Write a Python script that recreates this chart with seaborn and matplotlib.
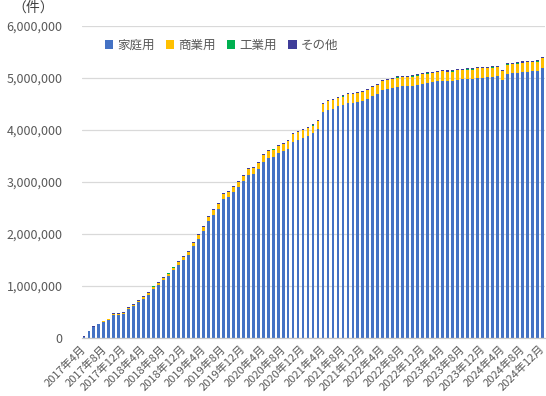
import matplotlib
matplotlib.use("Agg")
import matplotlib.pyplot as plt
from matplotlib.patches import Patch
from matplotlib.transforms import ScaledTranslation
import numpy as np
import pandas as pd
import seaborn as sns

# ---- data (thousands of cases), monthly 2017-04 .. 2024-12 ----
months = [f"{y}年{m}月" for y in range(2017, 2025) for m in range(1, 13)][3:]

home = [20, 135, 214, 263, 311, 346, 450, 450, 468, 553,
        608, 686, 754, 834, 950, 1019, 1107, 1193, 1305, 1405,
        1497, 1597, 1765, 1909, 2062, 2248, 2375, 2486, 2674, 2716,
        2802, 2901, 3011, 3127, 3156, 3242, 3389, 3456, 3486, 3555,
        3592, 3641, 3780, 3812, 3854, 3887, 3935, 4022, 4342, 4386,
        4410, 4454, 4478, 4517, 4527, 4547, 4566, 4605, 4655, 4695,
        4764, 4793, 4813, 4838, 4853, 4852, 4857, 4877, 4896, 4911,
        4926, 4940, 4954, 4947, 4950, 4972, 4974, 4985, 4988, 5008,
        5010, 5017, 5022, 5037, 4957, 5080, 5095, 5099, 5114, 5123,
        5128, 5132, 5200]
commercial = [0, 2, 4, 6, 8, 10, 18, 18, 20, 24,
              26, 30, 32, 36, 40, 42, 44, 46, 50, 52,
              55, 58, 62, 66, 72, 78, 82, 88, 92, 95,
              98, 102, 108, 115, 118, 122, 130, 134, 136, 138,
              140, 142, 145, 146, 148, 150, 152, 155, 162, 164,
              165, 166, 167, 168, 168, 168, 169, 170, 170, 170,
              171, 172, 172, 172, 172, 173, 173, 173, 174, 174,
              174, 175, 175, 175, 175, 176, 176, 176, 177, 177,
              177, 178, 178, 178, 172, 180, 180, 181, 181, 182,
              182, 183, 185]
industrial = [0, 0, 1, 1, 1, 1, 2, 2, 2, 2,
              2, 2, 2, 3, 3, 3, 3, 3, 3, 3,
              3, 3, 4, 4, 4, 4, 4, 4, 4, 4,
              5, 5, 5, 5, 5, 5, 5, 5, 5, 5,
              5, 5, 5, 5, 5, 5, 5, 5, 5, 5,
              5, 5, 5, 5, 5, 5, 5, 5, 5, 5,
              5, 5, 5, 5, 5, 5, 5, 5, 5, 5,
              5, 5, 5, 5, 5, 5, 5, 5, 5, 5,
              5, 5, 5, 5, 5, 5, 5, 5, 5, 5,
              5, 5, 5]
other = [10, 4, 5, 6, 7, 8, 10, 10, 10, 11,
         11, 12, 12, 12, 13, 13, 13, 14, 14, 14,
         15, 15, 15, 15, 16, 16, 16, 16, 17, 17,
         18, 18, 18, 18, 18, 18, 18, 18, 18, 18,
         18, 18, 18, 18, 18, 18, 18, 18, 20, 20,
         20, 20, 20, 20, 20, 20, 20, 20, 20, 20,
         20, 20, 20, 20, 20, 20, 20, 20, 20, 20,
         20, 20, 20, 20, 20, 20, 20, 20, 20, 20,
         20, 20, 20, 20, 20, 20, 20, 20, 20, 20,
         20, 20, 20]

series_names = ["家庭用", "商業用", "工業用", "その他"]
colors = ["#4472C4", "#FFC000", "#00B050", "#3F3D99"]

df = pd.DataFrame({"month": months,
                   "家庭用": np.array(home) * 1000,
                   "商業用": np.array(commercial) * 1000,
                   "工業用": np.array(industrial) * 1000,
                   "その他": np.array(other) * 1000})
cum = df[series_names].cumsum(axis=1)

sns.set_theme(style="white")
plt.rcParams["font.family"] = ["Noto Sans CJK JP", "DejaVu Sans"]

fig = plt.figure(figsize=(5.46, 3.96), dpi=100)
ax = fig.add_axes([0.150, 0.1465, 0.848, 0.7875])

# draw cumulative layers from top to bottom
for name, col in list(zip(series_names, colors))[::-1]:
    sns.barplot(x=df["month"], y=cum[name], color=col, width=0.55,
                saturation=1, ax=ax, linewidth=0, order=months)

ax.set_ylim(0, 6_000_000)
ax.set_xlim(-0.4, len(months) - 1 + 0.55)
ax.set_yticks(np.arange(0, 6_000_001, 1_000_000))
ax.set_yticklabels([f"{v:,}" for v in range(0, 6_000_001, 1_000_000)])
ax.yaxis.grid(True, color="#d9d9d9", linewidth=0.9)
ax.set_axisbelow(True)
for s in ["top", "right", "left"]:
    ax.spines[s].set_visible(False)
ax.spines["bottom"].set_color("#c8c8c8")
ax.spines["bottom"].set_linewidth(0.9)
ax.set_xlabel("")
ax.set_ylabel("")

tick_pos = list(range(0, len(months), 4))
ax.set_xticks(tick_pos)
ax.set_xticklabels([months[i] for i in tick_pos], rotation=45, ha="right",
                   rotation_mode="anchor", fontsize=8, color="#595959")
ax.tick_params(axis="x", length=0, pad=4)
ax.tick_params(axis="y", length=0, pad=14, labelsize=9, labelcolor="#595959")
offset = ScaledTranslation(-3 / 100, 0, fig.dpi_scale_trans)
for lbl in ax.get_xticklabels():
    lbl.set_transform(lbl.get_transform() + offset)

handles = [Patch(facecolor=c, edgecolor="none", label=n)
           for n, c in zip(series_names, colors)]
ax.legend(handles=handles, loc="upper left", bbox_to_anchor=(0.025, 0.995),
          ncol=4, frameon=False, fontsize=9, handlelength=0.65,
          handleheight=0.65, handletextpad=0.35, columnspacing=0.9,
          labelcolor="#595959")

fig.text(0.022, 0.998, "（件）", fontsize=10, color="#404040", va="top", ha="left")

fig.savefig("out.png", dpi=100)
